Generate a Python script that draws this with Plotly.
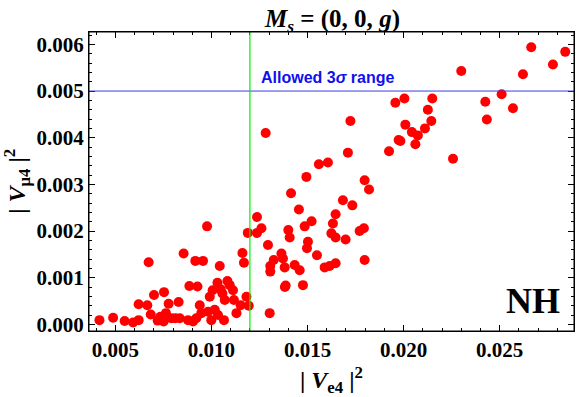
import plotly.graph_objects as go

# |V_e4|^2 and |V_mu4|^2
ve4 = [
    0.00417, 0.00488, 0.00548, 0.00592, 0.00621, 0.00621, 0.00666, 0.00673, 0.00684, 0.00701,
    0.00720, 0.00734, 0.00753, 0.00751, 0.00763, 0.00777, 0.00791, 0.00812, 0.00829, 0.00835,
    0.00855, 0.00878, 0.00885, 0.00904, 0.00916, 0.00921, 0.00927, 0.00939, 0.00947, 0.00956,
    0.00977, 0.00982, 0.00991, 0.00999, 0.01017, 0.01031, 0.01034, 0.01043, 0.01048, 0.01057,
    0.01065, 0.01069, 0.01083, 0.01095, 0.01117, 0.01130, 0.01152, 0.01161, 0.01169, 0.01182,
    0.01189, 0.01194, 0.01006, 0.01112,
    0.01282, 0.01559, 0.01606, 0.01494, 0.01414, 0.01455, 0.01237, 0.01646, 0.01521, 0.01485,
    0.01632, 0.01260, 0.01400, 0.01237, 0.01294, 0.01407, 0.01624, 0.01502, 0.01497, 0.01549,
    0.01364, 0.01324, 0.01372, 0.01306, 0.01306, 0.01381, 0.01433, 0.01459, 0.01589, 0.01615,
    0.01646, 0.01382, 0.01386, 0.01476, 0.01303,
    0.01957, 0.02004, 0.01723, 0.02009, 0.02043, 0.02074, 0.01974, 0.01983, 0.02061, 0.01924,
    0.01710, 0.01797, 0.01820, 0.01684, 0.01733, 0.01646, 0.01698, 0.01771, 0.01793, 0.01797,
    0.02149, 0.02126, 0.02144, 0.02111, 0.02257, 0.02425, 0.02510, 0.02569, 0.02433,
    0.02300, 0.02621, 0.02664, 0.02777, 0.02841,
]
vmu4 = [
    0.00009, 0.00014, 0.00007, 0.00004, 0.00009, 0.00043, 0.00041, 0.00133, 0.00021, 0.00063,
    0.00008, 0.00016, 0.00069, 0.00006, 0.00024, 0.00044, 0.00013, 0.00013, 0.00048, 0.00013,
    0.00152, 0.00009, 0.00082, 0.00006, 0.00136, 0.00013, 0.00081, 0.00041, 0.00024, 0.00136,
    0.00210, 0.00027, 0.00059, 0.00009, 0.00031, 0.00089, 0.00020, 0.00125, 0.00075, 0.00066,
    0.00009, 0.00052, 0.00093, 0.00084, 0.00052, 0.00024, 0.00041, 0.00153, 0.00132, 0.00059,
    0.00196, 0.00040, 0.00073, 0.00073,
    0.00410, 0.00343, 0.00347, 0.00316, 0.00281, 0.00246, 0.00230, 0.00236, 0.00221, 0.00210,
    0.00216, 0.00206, 0.00202, 0.00196, 0.00170, 0.00186, 0.00195, 0.00177, 0.00163, 0.00148,
    0.00152, 0.00138, 0.00141, 0.00125, 0.00113, 0.00122, 0.00127, 0.00116, 0.00122, 0.00125,
    0.00131, 0.00080, 0.00083, 0.00084, 0.00024,
    0.00475, 0.00484, 0.00436, 0.00428, 0.00412, 0.00405, 0.00395, 0.00393, 0.00386, 0.00371,
    0.00368, 0.00309, 0.00289, 0.00266, 0.00255, 0.00186, 0.00182, 0.00200, 0.00206, 0.00138,
    0.00484, 0.00460, 0.00436, 0.00420, 0.00355, 0.00477, 0.00493, 0.00463, 0.00439,
    0.00543, 0.00536, 0.00594, 0.00557, 0.00584,
]

ve4_bound = 0.012      # green vertical line
vmu4_bound = 0.005     # blue horizontal line (allowed 3 sigma)

x_ticks = [0.005, 0.010, 0.015, 0.020, 0.025]
y_ticks = [0.000, 0.001, 0.002, 0.003, 0.004, 0.005, 0.006]

serif = "Liberation Serif"

fig = go.Figure()

fig.add_trace(go.Scatter(
    x=ve4, y=vmu4,
    mode='markers',
    marker=dict(color='#FF0000', size=10, line=dict(width=0)),
    showlegend=False,
    cliponaxis=True
))

fig.add_hline(y=vmu4_bound, line_color='#3A3AF0', line_width=1)
fig.add_vline(x=ve4_bound, line_color='#00F000', line_width=1.2)

fig.add_annotation(
    x=0.01246, y=0.0053, xref='x', yref='y',
    text="<b>Allowed 3<i>σ</i> range</b>",
    showarrow=False, xanchor='left', yanchor='middle',
    font=dict(family="Liberation Sans", size=16, color='#1010EE')
)

fig.add_annotation(
    x=0.975, y=0.1, xref='paper', yref='paper',
    text="<b>NH</b>", showarrow=False, xanchor='right', yanchor='middle',
    font=dict(family=serif, size=36, color='black')
)

# title and axis titles
fig.add_annotation(
    x=0.5, y=1.04, xref='paper', yref='paper',
    text="<b><i>M<sub>s</sub></i> = (0, 0, <i>g</i>)</b>",
    showarrow=False, xanchor='center', yanchor='middle',
    font=dict(family=serif, size=25, color='black')
)
fig.add_annotation(
    x=0.5, y=-0.165, xref='paper', yref='paper',
    text="<b>| <i>V</i><sub>e4</sub> |<sup>2</sup></b>",
    showarrow=False, xanchor='center', yanchor='middle',
    font=dict(family=serif, size=24, color='black')
)
fig.add_annotation(
    x=-0.15, y=0.5, xref='paper', yref='paper',
    text="<b>| <i>V</i><sub>μ4</sub> |<sup>2</sup></b>",
    showarrow=False, xanchor='center', yanchor='middle', textangle=-90,
    font=dict(family=serif, size=24, color='black')
)

# frame around the plot area
fig.add_shape(type='rect', xref='paper', yref='paper', x0=0, y0=0, x1=1, y1=1,
              line=dict(color='black', width=1), layer='above')

axis_common = dict(
    showgrid=False, zeroline=False,
    showline=True, linecolor='black', linewidth=1, mirror='ticks',
    ticks='inside', ticklen=6, tickwidth=1, tickcolor='black',
    tickformat='.3f',
    tickfont=dict(family=serif, size=21, color='black', weight='bold'),
)

fig.update_xaxes(
    range=[0.003626, 0.028866], tickvals=x_ticks,
    minor=dict(dtick=0.001, tick0=0.0, ticks='inside', ticklen=3, tickcolor='black', showgrid=False),
    **axis_common
)
fig.update_yaxes(
    range=[-0.000143, 0.006266], tickvals=y_ticks,
    minor=dict(dtick=0.0002, tick0=0.0, ticks='inside', ticklen=3, tickcolor='black', showgrid=False),
    **axis_common
)

fig.update_layout(
    width=576, height=397,
    margin=dict(l=89, r=2, t=32, b=66),
    plot_bgcolor='white', paper_bgcolor='white',
)

fig.write_html("out.html", config={'displayModeBar': False},
               post_script="document.body.style.margin='0';")
